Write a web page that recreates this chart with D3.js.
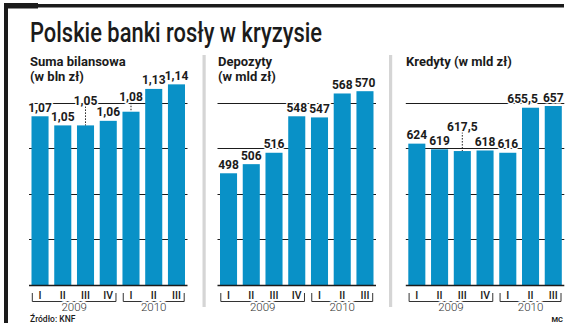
<!DOCTYPE html>
<html>
<head>
<meta charset="utf-8">
<script src="https://cdn.jsdelivr.net/npm/d3@7"></script>
<style>
  html, body { margin: 0; padding: 0; background: #fff; }
  svg { display: block; font-family: Roboto, "Noto Sans", sans-serif; }
</style>
</head>
<body>
<svg id="chart" width="571" height="331"></svg>
<script>
// Quarterly data, Polish banks 2009–2010
const quarters = ["I", "II", "III", "IV", "I", "II", "III"];
const years = [
  { label: "2009", from: 0, to: 3 },
  { label: "2010", from: 4, to: 6 }
];
const assetValues   = [1.07, 1.05, 1.05, 1.06, 1.08, 1.13, 1.14];   // bln zł
const depositValues = [498, 506, 516, 548, 547, 568, 570];          // mld zł
const creditValues  = [624, 619, 617.5, 618, 616, 655.5, 657];      // mld zł
const assetTicks   = [0.8, 0.9, 1.0, 1.1];
const depositTicks = [440, 480, 520, 560];
const creditTicks  = [540, 580, 620, 660];

const svg = d3.select("#chart");
const BLUE = "#0991c7";
const INK = "#1b1b1b";
const fmt = v => String(v).replace(".", ",");

// frame
svg.append("rect").attr("x", 4).attr("y", 3).attr("width", 34).attr("height", 5.5).attr("fill", INK);
svg.append("rect").attr("x", 4).attr("y", 4).attr("width", 560).attr("height", 3.5).attr("fill", INK);
svg.append("rect").attr("x", 4).attr("y", 3).attr("width", 4).attr("height", 320).attr("fill", INK);

// title
svg.append("text")
  .attr("x", 30).attr("y", 42)
  .attr("font-size", 28).attr("font-weight", 500)
  .attr("fill", INK)
  .attr("textLength", 292).attr("lengthAdjust", "spacingAndGlyphs")
  .text("Polskie banki rosły w kryzysie");

// panel separators
[202.5, 389].forEach(x => {
  svg.append("rect").attr("x", x).attr("y", 55).attr("width", 3.2).attr("height", 252).attr("fill", "#d5d5d5");
});

const panels = [
  { titles: ["Suma bilansowa", "(w bln zł)"], tx: 30, x0: 31.5, values: assetValues,
    domain: [0.7, 1.1], ticks: assetTicks, lift: [0, 0, 16, 0, 6, 0, 0], dx: [0, 0, 0, 0, 0, 0, 0] },
  { titles: ["Depozyty", "(w mld zł)"], tx: 218, x0: 220, values: depositValues,
    domain: [400, 560], ticks: depositTicks, lift: [0, 0, 0, 0, 0, 0, 0], dx: [0, 0, 0, 0, 0, 0, 0] },
  { titles: ["Kredyty (w mld zł)"], tx: 406, x0: 408.3, values: creditValues,
    domain: [500, 660], ticks: creditTicks, lift: [0, 0, 16, 0, 0, 0, 0], dx: [0, 0, 0, 0, 0, -8, 0] }
];

const BASE = 285, TOPY = 102.6, SPAN = 153.5;

panels.forEach(p => {
  const g = svg.append("g");
  const x = d3.scaleBand().domain(d3.range(quarters.length))
    .range([p.x0, p.x0 + SPAN]).paddingInner(0.25).paddingOuter(0);
  const y = d3.scaleLinear().domain(p.domain).range([BASE, TOPY]);
  const bw = x.bandwidth();
  const gx0 = p.x0 - 2.5, gx1 = p.x0 + SPAN + 2.5;

  // titles
  p.titles.forEach((t, i) => {
    g.append("text").attr("x", p.tx).attr("y", 66 + i * 15)
      .attr("font-size", 13).attr("font-weight", 700).attr("fill", INK).text(t);
  });

  // gridlines (behind bars)
  g.selectAll(".grid").data(p.ticks).enter().append("line")
    .attr("x1", gx0).attr("x2", gx1)
    .attr("y1", d => Math.round(y(d)) + 0.5).attr("y2", d => Math.round(y(d)) + 0.5)
    .attr("stroke", INK).attr("stroke-width", 1);

  // bars
  g.selectAll(".bar").data(p.values).enter().append("rect")
    .attr("x", (d, i) => x(i)).attr("width", bw)
    .attr("y", d => y(d)).attr("height", d => BASE - y(d))
    .attr("fill", BLUE);

  // baseline
  g.append("line").attr("x1", gx0).attr("x2", gx1).attr("y1", BASE + 0.5).attr("y2", BASE + 0.5)
    .attr("stroke", INK).attr("stroke-width", 1.4);

  // dotted leaders for lifted labels
  p.values.forEach((v, i) => {
    if (p.lift[i] > 0) {
      const cx = x(i) + bw / 2;
      g.append("line").attr("x1", cx).attr("x2", cx)
        .attr("y1", y(v) - 4.5 - p.lift[i] + 1.5).attr("y2", y(v))
        .attr("stroke", INK).attr("stroke-width", 1).attr("stroke-dasharray", "1.5,1.5");
    }
  });

  // value labels
  g.selectAll(".val").data(p.values).enter().append("text")
    .attr("x", (d, i) => x(i) + bw / 2 + p.dx[i])
    .attr("y", (d, i) => y(d) - 4.5 - p.lift[i])
    .attr("text-anchor", "middle")
    .attr("font-size", 12).attr("font-weight", 700).attr("fill", INK)
    .attr("stroke", "#fff").attr("stroke-width", 3).attr("paint-order", "stroke")
    .text(d => fmt(d));

  // quarter labels
  g.selectAll(".q").data(quarters).enter().append("text")
    .attr("x", (d, i) => x(i) + bw / 2).attr("y", 298.5)
    .attr("text-anchor", "middle").attr("font-size", 10.5).attr("font-weight", 500)
    .attr("fill", INK).text(d => d);

  // year brackets
  years.forEach(yr => {
    const a = x(yr.from) + 0.8, b = x(yr.to) + bw - 0.8;
    g.append("path")
      .attr("d", `M${a},293V301.5H${b}V293`)
      .attr("fill", "none").attr("stroke", "#333").attr("stroke-width", 1);
    g.append("text").attr("x", (a + b) / 2).attr("y", 311)
      .attr("text-anchor", "middle").attr("font-size", 11.5).attr("font-weight", 300)
      .attr("fill", "#333").attr("stroke", "#fff").attr("stroke-width", 4).attr("paint-order", "stroke")
      .text(yr.label);
  });
});

// footer
svg.append("text").attr("x", 30).attr("y", 322).attr("font-size", 8.5).attr("font-weight", 500)
  .attr("fill", INK).text("Źródło: KNF");
svg.append("text").attr("x", 563).attr("y", 322).attr("text-anchor", "end")
  .attr("font-size", 7.5).attr("font-weight", 700).attr("fill", INK).text("MC");
</script>
</body>
</html>
